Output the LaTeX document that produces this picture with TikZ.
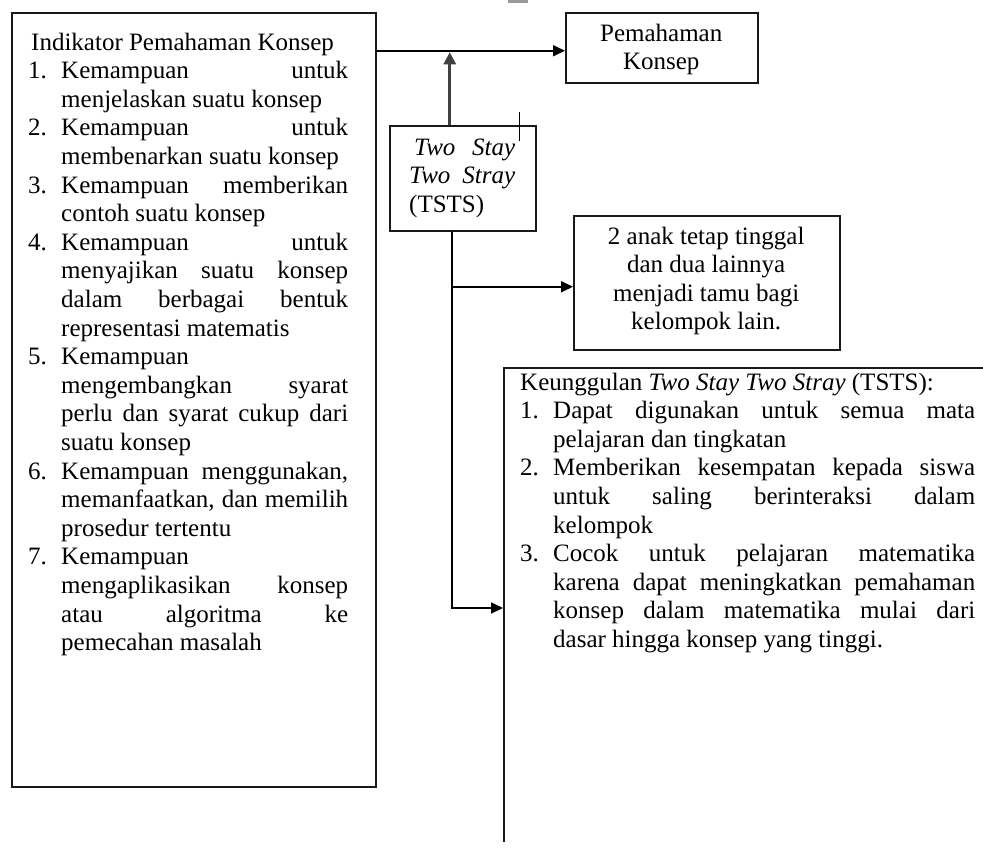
\documentclass[tikz,border=0pt]{standalone}
\usepackage{fontspec}
\setmainfont{Liberation Serif}
\usetikzlibrary{arrows.meta}
\tikzset{
  box/.style={draw=black!90, line width=1.5pt, inner sep=0pt, anchor=north west, minimum width=#1},
  box/.default=10pt,
  txt/.style={inner sep=0pt, anchor=base west, font=\fontsize{25}{28.6}\selectfont},
  arr/.style={draw=black, line width=1.7pt, -{Triangle[length=12pt,width=11pt]}},
  arrg/.style={draw=black!75, line width=2.8pt, -{Triangle[length=12pt,width=12pt]}},
}
\newlength{\itmw}
\setlength{\itmw}{33pt}
\newcommand\itm[2]{\hangindent=\itmw\hangafter=1\makebox[\itmw][l]{#1}#2\par}
\newcommand\jset{\tolerance=10000\hbadness=10000\hyphenpenalty=10000\exhyphenpenalty=10000\parindent=0pt\parskip=0pt}
\begin{document}
\begin{tikzpicture}[x=1pt,y=-1pt]
\useasboundingbox (0,0) rectangle (983,849);
\fill[black!40] (508,0) rectangle (528,3);

% left box
\node[box=364pt, minimum height=774pt] (L) at (11,12) {};
\node[txt] (Lt) at (28,50) {\parbox[t]{320pt}{\jset
\hspace*{3pt}Indikator Pemahaman Konsep\par
\itm{1.}{Kemampuan untuk\linebreak menjelaskan suatu konsep}
\itm{2.}{Kemampuan untuk\linebreak membenarkan suatu konsep}
\itm{3.}{Kemampuan memberikan\linebreak contoh suatu konsep}
\itm{4.}{Kemampuan untuk\linebreak menyajikan suatu konsep\linebreak dalam berbagai bentuk\linebreak representasi matematis}
\itm{5.}{Kemampuan\linebreak mengembangkan syarat\linebreak perlu dan syarat cukup dari\linebreak suatu konsep}
\itm{6.}{Kemampuan menggunakan,\linebreak memanfaatkan, dan memilih\linebreak prosedur tertentu}
\itm{7.}{Kemampuan\linebreak mengaplikasikan konsep\linebreak atau algoritma ke\linebreak pemecahan masalah}}};

% Pemahaman Konsep
\node[box=192pt, minimum height=70pt] (P) at (565,12) {};
\node[txt] (Pt) at (565,41) {\parbox[t]{192pt}{\centering Pemahaman\\Konsep}};

% TSTS box
\node[box=146pt, minimum height=105pt] (T) at (389,125) {};
\node[txt] (Tt) at (409,155) {\parbox[t]{106pt}{\jset\itshape\hspace*{5pt}Two Stay\linebreak Two Stray\linebreak\upshape (TSTS)}};
\draw[line width=0.8pt] (519,112) -- (519,141);

% 2 anak box
\node[box=266pt, minimum height=134pt] (A) at (573,215) {};
\node[txt] (At) at (573,244) {\parbox[t]{266pt}{\centering 2 anak tetap tinggal\\dan dua lainnya\\menjadi tamu bagi\\kelompok lain.}};

% Keunggulan box (cut by the picture edge)
\begin{scope}
\clip (0,0) rectangle (983,841);
\node[box=520pt, minimum height=520pt] (K) at (503,367) {};
\end{scope}
\node[txt] (Kt) at (520,390) {\parbox[t]{455pt}{\jset
Keunggulan \textit{Two Stay Two Stray} (TSTS):\par
\itm{1.}{Dapat digunakan untuk semua mata\linebreak pelajaran dan tingkatan}
\itm{2.}{Memberikan kesempatan kepada siswa\linebreak untuk saling berinteraksi dalam\linebreak kelompok}
\itm{3.}{Cocok untuk pelajaran matematika\linebreak karena dapat meningkatkan pemahaman\linebreak konsep dalam matematika mulai dari\linebreak dasar hingga konsep yang tinggi.}}};

% connectors
\coordinate (pin) at ([yshift=-3pt]P.west);
\draw[arr] (L.east |- pin) -- (pin);
\draw[arrg, shorten >=1.5pt] ([xshift=-13pt]T.north) -- ([xshift=-13pt]T.north |- pin);
\coordinate (d0) at ([xshift=-11pt]T.south);
\coordinate (kin) at ([yshift=-241pt]K.north west);
\draw[arr] (d0) |- (kin);
\coordinate (ain) at ([yshift=-4pt]A.west);
\draw[arr] (d0 |- ain) -- (ain);
\end{tikzpicture}
\end{document}
